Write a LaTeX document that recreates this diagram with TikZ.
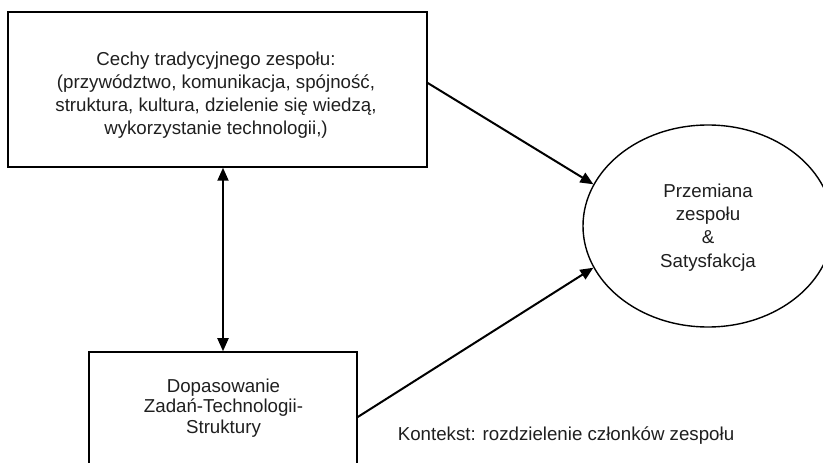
\documentclass[tikz,border=0pt]{standalone}
\usepackage{fontspec}
\setmainfont{Liberation Sans}
\usetikzlibrary{shapes.geometric,arrows.meta}
\begin{document}
\begin{tikzpicture}[x=1bp,y=-1bp,
  box/.style={draw, line width=1.5bp, rectangle, inner sep=0pt},
  txt/.style={align=center, inner sep=0pt, text=black!88, font=\fontsize{18.7bp}{23.2bp}\selectfont},
  txtb/.style={align=center, inner sep=0pt, text=black!88, font=\fontsize{18.7bp}{20.5bp}\selectfont},
  conn/.style={line width=2bp, -{Triangle[length=13bp,width=11bp]}},
  dconn/.style={line width=2bp, {Triangle[length=13bp,width=11bp]}-{Triangle[length=13bp,width=11bp]}}
]
\useasboundingbox (0,0) rectangle (823,463);
\fill[white] (0,0) rectangle (823,463);
\node[box, minimum width=419bp, minimum height=155bp] (trad) at (217.5,89.5) {};
\node[txt] (tradt) at (216,95) {Cechy tradycyjnego zespołu:\\(przywództwo, komunikacja, spójność,\\struktura, kultura, dzielenie się wiedzą,\\wykorzystanie technologii,)};
\node[box, minimum width=268bp, minimum height=140bp] (bot) at (223,422) {};
\node[txtb] (bott) at (223.5,408) {Dopasowanie\\Zadań-Technologii-\\Struktury};
\node[draw, line width=1.4bp, ellipse, inner sep=0pt, minimum width=250bp, minimum height=202bp] (ell) at (708,226) {};
\node[txt] (ellt) at (708,227.5) {Przemiana\\zespołu\\\&\\Satysfakcja};
\node[txt, anchor=center] (ctx) at (566,436) {Kontekst: rozdzielenie członków zespołu};
\draw[conn] ([yshift=6.5bp]trad.east) -- (ell.160);
\draw[conn] ([yshift=5bp]bot.east) -- (ell.200);
\draw[dconn] (trad.south -| bot.north) -- (bot.north);
\end{tikzpicture}
\end{document}
